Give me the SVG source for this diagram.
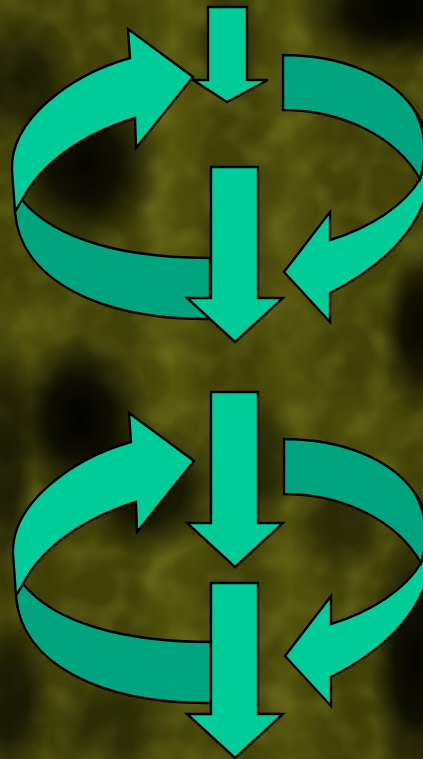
<svg xmlns="http://www.w3.org/2000/svg" width="423" height="759" viewBox="0 0 423 759">
<defs>
<style>
.lt{fill:#00CC99;stroke:#000;stroke-width:2.4;stroke-linejoin:miter}
.dk{fill:#00A47E;stroke:#000;stroke-width:2.4;stroke-linejoin:miter}
.blob{fill:url(#dg)}
</style>
<radialGradient id="dg">
<stop offset="0" stop-color="#020200" stop-opacity="1"/>
<stop offset="0.45" stop-color="#030300" stop-opacity="0.85"/>
<stop offset="0.8" stop-color="#050500" stop-opacity="0.3"/>
<stop offset="1" stop-color="#050500" stop-opacity="0"/>
</radialGradient>
<linearGradient id="stripe" x1="0" y1="0" x2="1" y2="0">
<stop offset="0" stop-color="#5c5c10" stop-opacity="0"/>
<stop offset="0.5" stop-color="#5c5c10" stop-opacity="0.9"/>
<stop offset="1" stop-color="#5c5c10" stop-opacity="0"/>
</linearGradient>
<radialGradient id="lg">
<stop offset="0" stop-color="#5e5e12" stop-opacity="0.9"/>
<stop offset="1" stop-color="#5e5e12" stop-opacity="0"/>
</radialGradient>
<filter id="noise" x="0" y="0" width="100%" height="100%">
<feTurbulence type="fractalNoise" baseFrequency="0.035" numOctaves="2" seed="7"/>
<feGaussianBlur stdDeviation="2.5"/>
<feColorMatrix type="matrix" values="0 0 0 0 0.38  0 0 0 0 0.38  0 0 0 0 0.05  1.2 0 0 0 -0.5"/>
</filter>
<filter id="noise2" x="0" y="0" width="100%" height="100%">
<feTurbulence type="fractalNoise" baseFrequency="0.03" numOctaves="2" seed="21"/>
<feGaussianBlur stdDeviation="3"/>
<feColorMatrix type="matrix" values="0 0 0 0 0.03  0 0 0 0 0.03  0 0 0 0 0  0 1.2 0 0 -0.45"/>
</filter>
<path id="bigArrow" d="M211,167 H258 V298 H283 L235,342 L187,298 H211 Z"/>
</defs>

<g id="background">
<rect width="423" height="759" fill="#434309"/>
<rect x="130" y="0" width="85" height="759" fill="url(#stripe)"/>
<rect x="250" y="0" width="80" height="759" fill="url(#stripe)" opacity="0.85"/>
<ellipse cx="30" cy="330" rx="50" ry="50" fill="url(#lg)"/>
<ellipse cx="365" cy="440" rx="50" ry="70" fill="url(#lg)" opacity="0.8"/>
<ellipse cx="330" cy="250" rx="50" ry="50" fill="url(#lg)" opacity="0.6"/>
<rect width="423" height="759" filter="url(#noise)" opacity="0.55"/>
<rect width="423" height="759" filter="url(#noise2)" opacity="0.6"/>
<g id="dark-blobs">
<ellipse class="blob" cx="85" cy="165" rx="75" ry="85" opacity="0.95"/>
<ellipse class="blob" cx="20" cy="80" rx="60" ry="70" opacity="0.6"/>
<ellipse class="blob" cx="400" cy="10" rx="110" ry="60" opacity="1"/>
<ellipse class="blob" cx="230" cy="40" rx="35" ry="55" opacity="0.45"/>
<ellipse class="blob" cx="420" cy="330" rx="40" ry="85" opacity="0.9"/>
<ellipse class="blob" cx="80" cy="418" rx="70" ry="85" opacity="1"/>
<ellipse class="blob" cx="150" cy="490" rx="70" ry="70" opacity="0.85"/>
<ellipse class="blob" cx="5" cy="460" rx="30" ry="140" opacity="0.6"/>
<ellipse class="blob" cx="415" cy="660" rx="45" ry="135" opacity="0.95"/>
<ellipse class="blob" cx="10" cy="700" rx="40" ry="90" opacity="0.7"/>
<ellipse class="blob" cx="262" cy="460" rx="40" ry="65" opacity="0.5"/>
<ellipse class="blob" cx="120" cy="725" rx="80" ry="50" opacity="0.35"/>
<ellipse class="blob" cx="340" cy="520" rx="55" ry="55" opacity="0.4"/>
</g>
</g>

<g id="cycle-top">
<g id="top-left-curve">
<path class="lt" d="M15,212 L12,170 C10,120 70,75 130,58 L128,29 L193,77 L136,148 L135,118 C80,135 40,165 22,200 Z"/>
<path class="dk" d="M22,200 C55,240 125,258 210,258 L210,319 C100,320 20,280 15,212 Z"/>
</g>
<g id="top-right-curve">
<path class="lt" d="M413,108 C445,150 445,235 330,293 L330,322 L284,272 L330,212 L330,240 C370,228 405,205 420,179 Q432,140 413,108 Z"/>
<path class="dk" d="M283,55 C340,55 390,75 413,108 Q432,140 420,179 C395,135 340,110 283,110 Z"/>
</g>
</g>

<g id="cycle-bottom" transform="translate(1,384)">
<g id="bottom-left-curve">
<path class="lt" d="M15,212 L12,170 C10,120 70,75 130,58 L128,29 L193,77 L136,148 L135,118 C80,135 40,165 22,200 Z"/>
<path class="dk" d="M22,200 C55,240 125,258 210,258 L210,319 C100,320 20,280 15,212 Z"/>
</g>
<g id="bottom-right-curve">
<path class="lt" d="M413,108 C445,150 445,235 330,293 L330,322 L284,272 L330,212 L330,240 C370,228 405,205 420,179 Q432,140 413,108 Z"/>
<path class="dk" d="M283,55 C340,55 390,75 413,108 Q432,140 420,179 C395,135 340,110 283,110 Z"/>
</g>
</g>

<g id="connectors">
<g id="arrow-1"><path class="lt" d="M208,7 H247 V80 H268 L227,102 L193,80 H208 Z"/></g>
<g id="arrow-2"><use href="#bigArrow" class="lt"/></g>
<g id="arrow-3"><use href="#bigArrow" class="lt" transform="translate(0,225)"/></g>
<g id="arrow-4"><use href="#bigArrow" class="lt" transform="translate(0,416)"/></g>
</g>
</svg>
